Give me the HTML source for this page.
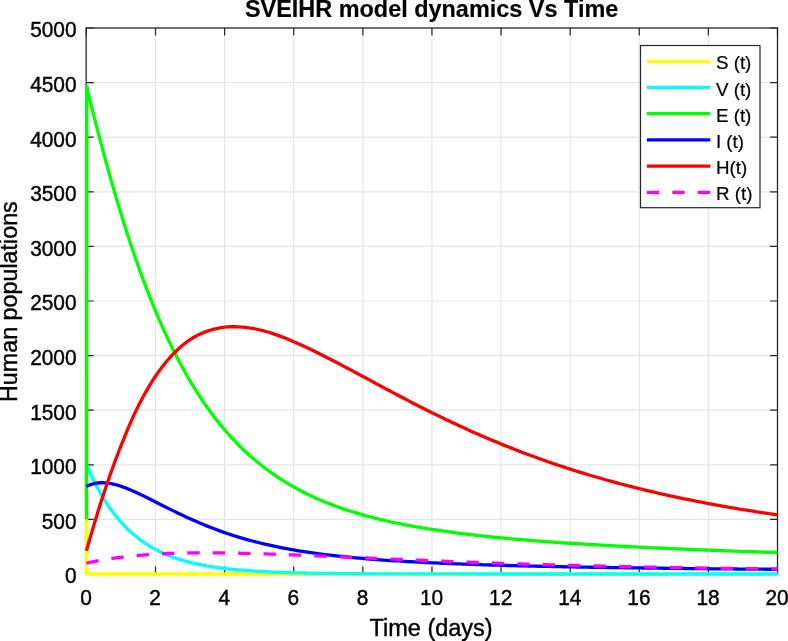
<!DOCTYPE html>
<html lang="en"><head><meta charset="utf-8"><title>SVEIHR model dynamics Vs Time</title>
<style>html,body{margin:0;padding:0;background:#fff;overflow:hidden}body{width:788px;height:641px;position:relative}</style></head>
<body>
<svg width="788" height="641" viewBox="0 0 788 641" style="position:absolute;left:0;top:0">
<rect width="788" height="641" fill="#fff"/>
<path d="M155.51 28.00 V574.00 M224.62 28.00 V574.00 M293.73 28.00 V574.00 M362.84 28.00 V574.00 M431.95 28.00 V574.00 M501.06 28.00 V574.00 M570.17 28.00 V574.00 M639.28 28.00 V574.00 M708.39 28.00 V574.00 M86.40 519.40 H777.50 M86.40 464.80 H777.50 M86.40 410.20 H777.50 M86.40 355.60 H777.50 M86.40 301.00 H777.50 M86.40 246.40 H777.50 M86.40 191.80 H777.50 M86.40 137.20 H777.50 M86.40 82.60 H777.50" stroke="#e5e5e5" stroke-width="1.2" fill="none"/>
<rect x="86.15" y="28.00" width="691.35" height="546.00" fill="none" stroke="#262626" stroke-width="1.3"/>
<path d="M86.40 574.00 v-7.40 M86.40 28.00 v7.40 M86.40 574.00 h7.40 M777.50 574.00 h-7.40 M155.51 574.00 v-7.40 M155.51 28.00 v7.40 M86.40 519.40 h7.40 M777.50 519.40 h-7.40 M224.62 574.00 v-7.40 M224.62 28.00 v7.40 M86.40 464.80 h7.40 M777.50 464.80 h-7.40 M293.73 574.00 v-7.40 M293.73 28.00 v7.40 M86.40 410.20 h7.40 M777.50 410.20 h-7.40 M362.84 574.00 v-7.40 M362.84 28.00 v7.40 M86.40 355.60 h7.40 M777.50 355.60 h-7.40 M431.95 574.00 v-7.40 M431.95 28.00 v7.40 M86.40 301.00 h7.40 M777.50 301.00 h-7.40 M501.06 574.00 v-7.40 M501.06 28.00 v7.40 M86.40 246.40 h7.40 M777.50 246.40 h-7.40 M570.17 574.00 v-7.40 M570.17 28.00 v7.40 M86.40 191.80 h7.40 M777.50 191.80 h-7.40 M639.28 574.00 v-7.40 M639.28 28.00 v7.40 M86.40 137.20 h7.40 M777.50 137.20 h-7.40 M708.39 574.00 v-7.40 M708.39 28.00 v7.40 M86.40 82.60 h7.40 M777.50 82.60 h-7.40 M777.50 574.00 v-7.40 M777.50 28.00 v7.40 M86.40 28.00 h7.40 M777.50 28.00 h-7.40" stroke="#262626" stroke-width="1.2" fill="none"/>
<path d="M85.95 137.20 L85.95 517.22" stroke="#ffff00" stroke-width="2.4" fill="none"/>
<path d="M86.50 515.03 L86.57 574.00 L777.50 574.00" stroke="#ffff00" stroke-width="3.30" fill="none" stroke-linejoin="round" />
<path d="M86.40 464.20 L87.26 466.24 L88.13 468.23 L88.99 470.19 L89.86 472.12 L90.72 474.00 L91.58 475.86 L92.45 477.68 L93.31 479.46 L94.17 481.21 L95.04 482.93 L95.90 484.62 L96.77 486.28 L97.63 487.90 L98.49 489.50 L99.36 491.06 L100.22 492.60 L101.09 494.11 L101.95 495.59 L102.81 497.04 L103.68 498.47 L104.54 499.87 L105.41 501.24 L106.27 502.59 L107.13 503.91 L108.00 505.21 L108.86 506.49 L109.72 507.74 L110.59 508.97 L111.45 510.17 L112.32 511.35 L113.18 512.52 L114.04 513.65 L114.91 514.77 L115.77 515.87 L116.64 516.95 L117.50 518.00 L118.36 519.04 L119.23 520.06 L120.09 521.06 L120.96 522.04 L121.82 523.00 L122.68 523.95 L123.55 524.88 L124.41 525.79 L125.27 526.68 L126.14 527.56 L127.00 528.42 L127.87 529.26 L128.73 530.09 L129.59 530.91 L130.46 531.70 L131.32 532.49 L132.19 533.26 L133.05 534.01 L133.91 534.75 L134.78 535.48 L135.64 536.19 L136.50 536.89 L137.37 537.58 L138.23 538.26 L139.10 538.92 L139.96 539.57 L140.82 540.21 L141.69 540.83 L142.55 541.45 L143.42 542.05 L144.28 542.64 L145.14 543.22 L146.01 543.80 L146.87 544.35 L147.74 544.90 L148.60 545.44 L149.46 545.97 L150.33 546.49 L151.19 547.00 L152.05 547.50 L152.92 547.99 L153.78 548.48 L154.65 548.95 L155.51 549.41 L158.97 551.18 L162.42 552.83 L165.88 554.36 L169.33 555.77 L172.79 557.09 L176.24 558.31 L179.70 559.44 L183.15 560.49 L186.61 561.46 L190.06 562.36 L193.52 563.20 L196.98 563.98 L200.43 564.70 L203.89 565.37 L207.34 566.00 L210.80 566.57 L214.25 567.11 L217.71 567.61 L221.16 568.07 L224.62 568.49 L228.08 568.89 L231.53 569.26 L234.99 569.60 L238.44 569.92 L241.90 570.21 L245.35 570.49 L248.81 570.74 L252.26 570.97 L255.72 571.19 L259.18 571.39 L262.63 571.58 L266.09 571.76 L269.54 571.92 L273.00 572.07 L276.45 572.21 L279.91 572.34 L283.36 572.46 L286.82 572.57 L290.27 572.67 L293.73 572.77 L297.19 572.86 L300.64 572.94 L304.10 573.01 L307.55 573.09 L311.01 573.15 L314.46 573.21 L317.92 573.27 L321.37 573.32 L324.83 573.37 L328.28 573.42 L331.74 573.46 L335.20 573.50 L338.65 573.53 L342.11 573.57 L345.56 573.60 L349.02 573.63 L352.47 573.65 L355.93 573.68 L359.38 573.70 L362.84 573.72 L366.30 573.74 L369.75 573.76 L373.21 573.78 L376.66 573.80 L380.12 573.81 L383.57 573.82 L387.03 573.84 L390.48 573.85 L393.94 573.86 L397.39 573.87 L400.85 573.88 L404.31 573.89 L407.76 573.90 L411.22 573.90 L414.67 573.91 L418.13 573.92 L421.58 573.92 L425.04 573.93 L428.49 573.93 L431.95 573.94 L435.41 573.94 L438.86 573.95 L442.32 573.95 L445.77 573.95 L449.23 573.96 L452.68 573.96 L456.14 573.96 L459.59 573.97 L463.05 573.97 L466.50 573.97 L469.96 573.97 L473.42 573.97 L476.87 573.98 L480.33 573.98 L483.78 573.98 L487.24 573.98 L490.69 573.98 L494.15 573.98 L497.60 573.99 L501.06 573.99 L504.52 573.99 L507.97 573.99 L511.43 573.99 L514.88 573.99 L518.34 573.99 L521.79 573.99 L525.25 573.99 L528.70 573.99 L532.16 573.99 L535.62 573.99 L539.07 573.99 L542.53 573.99 L545.98 573.99 L549.44 574.00 L552.89 574.00 L556.35 574.00 L559.80 574.00 L563.26 574.00 L566.71 574.00 L570.17 574.00 L573.63 574.00 L577.08 574.00 L580.54 574.00 L583.99 574.00 L587.45 574.00 L590.90 574.00 L594.36 574.00 L597.81 574.00 L601.27 574.00 L604.73 574.00 L608.18 574.00 L611.64 574.00 L615.09 574.00 L618.55 574.00 L622.00 574.00 L625.46 574.00 L628.91 574.00 L632.37 574.00 L635.82 574.00 L639.28 574.00 L642.74 574.00 L646.19 574.00 L649.65 574.00 L653.10 574.00 L656.56 574.00 L660.01 574.00 L663.47 574.00 L666.92 574.00 L670.38 574.00 L673.84 574.00 L677.29 574.00 L680.75 574.00 L684.20 574.00 L687.66 574.00 L691.11 574.00 L694.57 574.00 L698.02 574.00 L701.48 574.00 L704.93 574.00 L708.39 574.00 L711.85 574.00 L715.30 574.00 L718.76 574.00 L722.21 574.00 L725.67 574.00 L729.12 574.00 L732.58 574.00 L736.03 574.00 L739.49 574.00 L742.94 574.00 L746.40 574.00 L749.86 574.00 L753.31 574.00 L756.77 574.00 L760.22 574.00 L763.68 574.00 L767.13 574.00 L770.59 574.00 L774.04 574.00 L777.50 574.00" stroke="#00ffff" stroke-width="3.30" fill="none" stroke-linejoin="round" />
<path d="M86.50 519.40 L86.71 89.15 L86.95 86.53 L88.13 93.10 L88.99 96.57 L89.86 100.02 L90.72 103.46 L91.58 106.89 L92.45 110.30 L93.31 113.70 L94.17 117.08 L95.04 120.45 L95.90 123.80 L96.77 127.14 L97.63 130.46 L98.49 133.77 L99.36 137.06 L100.22 140.33 L101.09 143.59 L101.95 146.83 L102.81 150.05 L103.68 153.26 L104.54 156.44 L105.41 159.61 L106.27 162.76 L107.13 165.90 L108.00 169.01 L108.86 172.11 L109.72 175.19 L110.59 178.25 L111.45 181.29 L112.32 184.31 L113.18 187.31 L114.04 190.30 L114.91 193.26 L115.77 196.21 L116.64 199.14 L117.50 202.04 L118.36 204.93 L119.23 207.80 L120.09 210.65 L120.96 213.48 L121.82 216.29 L122.68 219.08 L123.55 221.85 L124.41 224.61 L125.27 227.34 L126.14 230.05 L127.00 232.74 L127.87 235.42 L128.73 238.07 L129.59 240.71 L130.46 243.32 L131.32 245.92 L132.19 248.50 L133.05 251.05 L133.91 253.59 L134.78 256.11 L135.64 258.61 L136.50 261.09 L137.37 263.55 L138.23 266.00 L139.10 268.42 L139.96 270.82 L140.82 273.21 L141.69 275.58 L142.55 277.93 L143.42 280.26 L144.28 282.57 L145.14 284.86 L146.01 287.13 L146.87 289.39 L147.74 291.63 L148.60 293.85 L149.46 296.05 L150.33 298.23 L151.19 300.40 L152.05 302.54 L152.92 304.67 L153.78 306.79 L154.65 308.88 L155.51 310.96 L158.97 319.09 L162.42 326.96 L165.88 334.56 L169.33 341.90 L172.79 348.99 L176.24 355.84 L179.70 362.45 L183.15 368.82 L186.61 374.98 L190.06 380.91 L193.52 386.64 L196.98 392.16 L200.43 397.49 L203.89 402.62 L207.34 407.57 L210.80 412.34 L214.25 416.94 L217.71 421.37 L221.16 425.64 L224.62 429.76 L228.08 433.73 L231.53 437.55 L234.99 441.24 L238.44 444.79 L241.90 448.21 L245.35 451.51 L248.81 454.69 L252.26 457.75 L255.72 460.71 L259.18 463.55 L262.63 466.30 L266.09 468.94 L269.54 471.49 L273.00 473.95 L276.45 476.32 L279.91 478.60 L283.36 480.80 L286.82 482.93 L290.27 484.98 L293.73 486.95 L297.19 488.86 L300.64 490.70 L304.10 492.48 L307.55 494.19 L311.01 495.85 L314.46 497.44 L317.92 498.98 L321.37 500.47 L324.83 501.91 L328.28 503.30 L331.74 504.64 L335.20 505.94 L338.65 507.19 L342.11 508.40 L345.56 509.57 L349.02 510.71 L352.47 511.80 L355.93 512.86 L359.38 513.89 L362.84 514.88 L366.30 515.84 L369.75 516.77 L373.21 517.67 L376.66 518.55 L380.12 519.39 L383.57 520.21 L387.03 521.01 L390.48 521.78 L393.94 522.52 L397.39 523.25 L400.85 523.95 L404.31 524.64 L407.76 525.30 L411.22 525.94 L414.67 526.57 L418.13 527.18 L421.58 527.77 L425.04 528.34 L428.49 528.90 L431.95 529.44 L435.41 529.97 L438.86 530.48 L442.32 530.98 L445.77 531.47 L449.23 531.95 L452.68 532.41 L456.14 532.86 L459.59 533.30 L463.05 533.73 L466.50 534.15 L469.96 534.56 L473.42 534.96 L476.87 535.34 L480.33 535.72 L483.78 536.10 L487.24 536.46 L490.69 536.81 L494.15 537.16 L497.60 537.50 L501.06 537.83 L504.52 538.16 L507.97 538.47 L511.43 538.79 L514.88 539.09 L518.34 539.39 L521.79 539.68 L525.25 539.97 L528.70 540.25 L532.16 540.53 L535.62 540.80 L539.07 541.06 L542.53 541.32 L545.98 541.58 L549.44 541.83 L552.89 542.08 L556.35 542.32 L559.80 542.56 L563.26 542.79 L566.71 543.02 L570.17 543.25 L573.63 543.47 L577.08 543.69 L580.54 543.91 L583.99 544.12 L587.45 544.33 L590.90 544.54 L594.36 544.74 L597.81 544.94 L601.27 545.14 L604.73 545.33 L608.18 545.52 L611.64 545.71 L615.09 545.90 L618.55 546.08 L622.00 546.26 L625.46 546.44 L628.91 546.62 L632.37 546.79 L635.82 546.96 L639.28 547.13 L642.74 547.30 L646.19 547.46 L649.65 547.63 L653.10 547.79 L656.56 547.95 L660.01 548.11 L663.47 548.26 L666.92 548.41 L670.38 548.57 L673.84 548.72 L677.29 548.87 L680.75 549.01 L684.20 549.16 L687.66 549.30 L691.11 549.44 L694.57 549.58 L698.02 549.72 L701.48 549.86 L704.93 550.00 L708.39 550.13 L711.85 550.26 L715.30 550.40 L718.76 550.53 L722.21 550.66 L725.67 550.78 L729.12 550.91 L732.58 551.04 L736.03 551.16 L739.49 551.28 L742.94 551.40 L746.40 551.53 L749.86 551.64 L753.31 551.76 L756.77 551.88 L760.22 552.00 L763.68 552.11 L767.13 552.23 L770.59 552.34 L774.04 552.45 L777.50 552.56" stroke="#00ff00" stroke-width="3.30" fill="none" stroke-linejoin="round" />
<path d="M86.40 486.46 L87.26 486.03 L88.13 485.62 L88.99 485.25 L89.86 484.90 L90.72 484.58 L91.58 484.30 L92.45 484.03 L93.31 483.80 L94.17 483.59 L95.04 483.40 L95.90 483.24 L96.77 483.10 L97.63 482.99 L98.49 482.89 L99.36 482.82 L100.22 482.77 L101.09 482.74 L101.95 482.73 L102.81 482.73 L103.68 482.76 L104.54 482.80 L105.41 482.86 L106.27 482.93 L107.13 483.03 L108.00 483.13 L108.86 483.26 L109.72 483.39 L110.59 483.54 L111.45 483.71 L112.32 483.88 L113.18 484.07 L114.04 484.28 L114.91 484.49 L115.77 484.72 L116.64 484.95 L117.50 485.20 L118.36 485.45 L119.23 485.72 L120.09 486.00 L120.96 486.28 L121.82 486.57 L122.68 486.88 L123.55 487.19 L124.41 487.50 L125.27 487.83 L126.14 488.16 L127.00 488.50 L127.87 488.84 L128.73 489.20 L129.59 489.55 L130.46 489.92 L131.32 490.28 L132.19 490.66 L133.05 491.04 L133.91 491.42 L134.78 491.81 L135.64 492.20 L136.50 492.59 L137.37 492.99 L138.23 493.40 L139.10 493.80 L139.96 494.21 L140.82 494.62 L141.69 495.04 L142.55 495.46 L143.42 495.88 L144.28 496.30 L145.14 496.72 L146.01 497.15 L146.87 497.58 L147.74 498.01 L148.60 498.44 L149.46 498.87 L150.33 499.30 L151.19 499.74 L152.05 500.17 L152.92 500.61 L153.78 501.05 L154.65 501.49 L155.51 501.92 L158.97 503.68 L162.42 505.43 L165.88 507.17 L169.33 508.90 L172.79 510.61 L176.24 512.30 L179.70 513.97 L183.15 515.61 L186.61 517.22 L190.06 518.79 L193.52 520.34 L196.98 521.84 L200.43 523.32 L203.89 524.75 L207.34 526.15 L210.80 527.51 L214.25 528.83 L217.71 530.12 L221.16 531.37 L224.62 532.58 L228.08 533.75 L231.53 534.89 L234.99 535.99 L238.44 537.05 L241.90 538.09 L245.35 539.08 L248.81 540.05 L252.26 540.98 L255.72 541.88 L259.18 542.75 L262.63 543.59 L266.09 544.40 L269.54 545.18 L273.00 545.93 L276.45 546.66 L279.91 547.36 L283.36 548.04 L286.82 548.70 L290.27 549.33 L293.73 549.93 L297.19 550.52 L300.64 551.09 L304.10 551.63 L307.55 552.16 L311.01 552.66 L314.46 553.15 L317.92 553.63 L321.37 554.08 L324.83 554.52 L328.28 554.95 L331.74 555.35 L335.20 555.75 L338.65 556.13 L342.11 556.50 L345.56 556.85 L349.02 557.20 L352.47 557.53 L355.93 557.85 L359.38 558.16 L362.84 558.46 L366.30 558.75 L369.75 559.03 L373.21 559.30 L376.66 559.56 L380.12 559.82 L383.57 560.06 L387.03 560.30 L390.48 560.53 L393.94 560.75 L397.39 560.97 L400.85 561.18 L404.31 561.38 L407.76 561.58 L411.22 561.77 L414.67 561.96 L418.13 562.14 L421.58 562.31 L425.04 562.48 L428.49 562.65 L431.95 562.81 L435.41 562.97 L438.86 563.12 L442.32 563.27 L445.77 563.41 L449.23 563.55 L452.68 563.69 L456.14 563.82 L459.59 563.95 L463.05 564.08 L466.50 564.20 L469.96 564.32 L473.42 564.44 L476.87 564.56 L480.33 564.67 L483.78 564.78 L487.24 564.89 L490.69 564.99 L494.15 565.09 L497.60 565.19 L501.06 565.29 L504.52 565.38 L507.97 565.48 L511.43 565.57 L514.88 565.66 L518.34 565.75 L521.79 565.83 L525.25 565.92 L528.70 566.00 L532.16 566.08 L535.62 566.16 L539.07 566.24 L542.53 566.31 L545.98 566.39 L549.44 566.46 L552.89 566.53 L556.35 566.60 L559.80 566.67 L563.26 566.74 L566.71 566.80 L570.17 566.87 L573.63 566.93 L577.08 567.00 L580.54 567.06 L583.99 567.12 L587.45 567.18 L590.90 567.24 L594.36 567.29 L597.81 567.35 L601.27 567.41 L604.73 567.46 L608.18 567.51 L611.64 567.57 L615.09 567.62 L618.55 567.67 L622.00 567.72 L625.46 567.77 L628.91 567.82 L632.37 567.87 L635.82 567.91 L639.28 567.96 L642.74 568.00 L646.19 568.05 L649.65 568.09 L653.10 568.14 L656.56 568.18 L660.01 568.22 L663.47 568.26 L666.92 568.30 L670.38 568.34 L673.84 568.38 L677.29 568.42 L680.75 568.46 L684.20 568.50 L687.66 568.53 L691.11 568.57 L694.57 568.61 L698.02 568.64 L701.48 568.68 L704.93 568.71 L708.39 568.74 L711.85 568.78 L715.30 568.81 L718.76 568.84 L722.21 568.87 L725.67 568.91 L729.12 568.94 L732.58 568.97 L736.03 569.00 L739.49 569.03 L742.94 569.06 L746.40 569.08 L749.86 569.11 L753.31 569.14 L756.77 569.17 L760.22 569.19 L763.68 569.22 L767.13 569.25 L770.59 569.27 L774.04 569.30 L777.50 569.32" stroke="#0000ff" stroke-width="3.30" fill="none" stroke-linejoin="round" />
<path d="M86.40 550.79 L87.26 547.76 L88.13 544.74 L88.99 541.74 L89.86 538.76 L90.72 535.80 L91.58 532.86 L92.45 529.94 L93.31 527.04 L94.17 524.15 L95.04 521.29 L95.90 518.46 L96.77 515.64 L97.63 512.84 L98.49 510.07 L99.36 507.31 L100.22 504.58 L101.09 501.87 L101.95 499.18 L102.81 496.52 L103.68 493.87 L104.54 491.25 L105.41 488.66 L106.27 486.08 L107.13 483.53 L108.00 481.00 L108.86 478.50 L109.72 476.01 L110.59 473.56 L111.45 471.12 L112.32 468.71 L113.18 466.32 L114.04 463.95 L114.91 461.61 L115.77 459.29 L116.64 457.00 L117.50 454.73 L118.36 452.48 L119.23 450.26 L120.09 448.06 L120.96 445.88 L121.82 443.72 L122.68 441.57 L123.55 439.42 L124.41 437.29 L125.27 435.18 L126.14 433.08 L127.00 430.99 L127.87 428.93 L128.73 426.89 L129.59 424.87 L130.46 422.87 L131.32 420.90 L132.19 418.95 L133.05 417.04 L133.91 415.15 L134.78 413.30 L135.64 411.48 L136.50 409.70 L137.37 407.94 L138.23 406.21 L139.10 404.49 L139.96 402.80 L140.82 401.14 L141.69 399.50 L142.55 397.88 L143.42 396.28 L144.28 394.70 L145.14 393.15 L146.01 391.62 L146.87 390.11 L147.74 388.63 L148.60 387.16 L149.46 385.72 L150.33 384.30 L151.19 382.90 L152.05 381.52 L152.92 380.17 L153.78 378.83 L154.65 377.52 L155.51 376.22 L158.97 371.26 L162.42 366.60 L165.88 362.26 L169.33 358.21 L172.79 354.45 L176.24 350.97 L179.70 347.77 L183.15 344.82 L186.61 342.13 L190.06 339.68 L193.52 337.50 L196.98 335.57 L200.43 333.88 L203.89 332.40 L207.34 331.11 L210.80 329.99 L214.25 329.05 L217.71 328.28 L221.16 327.68 L224.62 327.23 L228.08 326.93 L231.53 326.76 L234.99 326.73 L238.44 326.82 L241.90 327.03 L245.35 327.36 L248.81 327.81 L252.26 328.35 L255.72 329.00 L259.18 329.75 L262.63 330.59 L266.09 331.52 L269.54 332.54 L273.00 333.64 L276.45 334.83 L279.91 336.08 L283.36 337.40 L286.82 338.78 L290.27 340.20 L293.73 341.66 L297.19 343.16 L300.64 344.70 L304.10 346.29 L307.55 347.91 L311.01 349.56 L314.46 351.24 L317.92 352.94 L321.37 354.67 L324.83 356.41 L328.28 358.17 L331.74 359.95 L335.20 361.74 L338.65 363.54 L342.11 365.36 L345.56 367.19 L349.02 369.03 L352.47 370.88 L355.93 372.73 L359.38 374.59 L362.84 376.45 L366.30 378.31 L369.75 380.17 L373.21 382.03 L376.66 383.89 L380.12 385.75 L383.57 387.60 L387.03 389.44 L390.48 391.29 L393.94 393.12 L397.39 394.95 L400.85 396.77 L404.31 398.58 L407.76 400.38 L411.22 402.17 L414.67 403.95 L418.13 405.72 L421.58 407.47 L425.04 409.22 L428.49 410.95 L431.95 412.67 L435.41 414.38 L438.86 416.07 L442.32 417.75 L445.77 419.41 L449.23 421.06 L452.68 422.70 L456.14 424.32 L459.59 425.93 L463.05 427.52 L466.50 429.09 L469.96 430.65 L473.42 432.20 L476.87 433.73 L480.33 435.24 L483.78 436.74 L487.24 438.22 L490.69 439.69 L494.15 441.14 L497.60 442.57 L501.06 443.99 L504.52 445.39 L507.97 446.78 L511.43 448.15 L514.88 449.51 L518.34 450.85 L521.79 452.17 L525.25 453.48 L528.70 454.77 L532.16 456.05 L535.62 457.31 L539.07 458.56 L542.53 459.79 L545.98 461.01 L549.44 462.21 L552.89 463.40 L556.35 464.57 L559.80 465.73 L563.26 466.87 L566.71 468.00 L570.17 469.12 L573.63 470.22 L577.08 471.31 L580.54 472.38 L583.99 473.44 L587.45 474.48 L590.90 475.52 L594.36 476.53 L597.81 477.54 L601.27 478.53 L604.73 479.51 L608.18 480.48 L611.64 481.43 L615.09 482.37 L618.55 483.30 L622.00 484.22 L625.46 485.12 L628.91 486.02 L632.37 486.90 L635.82 487.76 L639.28 488.62 L642.74 489.47 L646.19 490.30 L649.65 491.13 L653.10 491.94 L656.56 492.74 L660.01 493.53 L663.47 494.31 L666.92 495.08 L670.38 495.84 L673.84 496.58 L677.29 497.32 L680.75 498.05 L684.20 498.77 L687.66 499.48 L691.11 500.18 L694.57 500.87 L698.02 501.55 L701.48 502.22 L704.93 502.88 L708.39 503.53 L711.85 504.17 L715.30 504.81 L718.76 505.43 L722.21 506.05 L725.67 506.66 L729.12 507.26 L732.58 507.85 L736.03 508.43 L739.49 509.01 L742.94 509.58 L746.40 510.14 L749.86 510.69 L753.31 511.23 L756.77 511.77 L760.22 512.30 L763.68 512.82 L767.13 513.34 L770.59 513.85 L774.04 514.35 L777.50 514.84" stroke="#ff0000" stroke-width="3.30" fill="none" stroke-linejoin="round" />
<path d="M86.40 563.17 L87.26 562.98 L88.13 562.79 L88.99 562.60 L89.86 562.42 L90.72 562.24 L91.58 562.06 L92.45 561.88 L93.31 561.71 L94.17 561.54 L95.04 561.37 L95.90 561.20 L96.77 561.04 L97.63 560.88 L98.49 560.72 L99.36 560.56 L100.22 560.40 L101.09 560.25 L101.95 560.10 L102.81 559.95 L103.68 559.80 L104.54 559.66 L105.41 559.51 L106.27 559.37 L107.13 559.23 L108.00 559.10 L108.86 558.96 L109.72 558.83 L110.59 558.70 L111.45 558.57 L112.32 558.44 L113.18 558.32 L114.04 558.20 L114.91 558.07 L115.77 557.96 L116.64 557.84 L117.50 557.72 L118.36 557.61 L119.23 557.50 L120.09 557.39 L120.96 557.28 L121.82 557.17 L122.68 557.07 L123.55 556.96 L124.41 556.86 L125.27 556.76 L126.14 556.66 L127.00 556.56 L127.87 556.47 L128.73 556.38 L129.59 556.28 L130.46 556.19 L131.32 556.10 L132.19 556.02 L133.05 555.93 L133.91 555.85 L134.78 555.76 L135.64 555.68 L136.50 555.60 L137.37 555.52 L138.23 555.45 L139.10 555.37 L139.96 555.30 L140.82 555.22 L141.69 555.15 L142.55 555.08 L143.42 555.01 L144.28 554.95 L145.14 554.88 L146.01 554.82 L146.87 554.75 L147.74 554.69 L148.60 554.63 L149.46 554.57 L150.33 554.51 L151.19 554.46 L152.05 554.40 L152.92 554.34 L153.78 554.29 L154.65 554.24 L155.51 554.19 L158.97 553.99 L162.42 553.82 L165.88 553.66 L169.33 553.52 L172.79 553.39 L176.24 553.28 L179.70 553.18 L183.15 553.10 L186.61 553.03 L190.06 552.97 L193.52 552.92 L196.98 552.89 L200.43 552.87 L203.89 552.85 L207.34 552.85 L210.80 552.86 L214.25 552.87 L217.71 552.90 L221.16 552.93 L224.62 552.97 L228.08 553.02 L231.53 553.07 L234.99 553.13 L238.44 553.20 L241.90 553.28 L245.35 553.36 L248.81 553.44 L252.26 553.53 L255.72 553.63 L259.18 553.73 L262.63 553.83 L266.09 553.94 L269.54 554.05 L273.00 554.17 L276.45 554.29 L279.91 554.41 L283.36 554.53 L286.82 554.66 L290.27 554.79 L293.73 554.93 L297.19 555.06 L300.64 555.20 L304.10 555.34 L307.55 555.48 L311.01 555.62 L314.46 555.76 L317.92 555.91 L321.37 556.05 L324.83 556.20 L328.28 556.35 L331.74 556.50 L335.20 556.65 L338.65 556.80 L342.11 556.95 L345.56 557.10 L349.02 557.25 L352.47 557.40 L355.93 557.55 L359.38 557.70 L362.84 557.85 L366.30 558.00 L369.75 558.15 L373.21 558.31 L376.66 558.46 L380.12 558.61 L383.57 558.75 L387.03 558.90 L390.48 559.05 L393.94 559.20 L397.39 559.35 L400.85 559.49 L404.31 559.64 L407.76 559.78 L411.22 559.93 L414.67 560.07 L418.13 560.21 L421.58 560.35 L425.04 560.49 L428.49 560.63 L431.95 560.77 L435.41 560.91 L438.86 561.04 L442.32 561.18 L445.77 561.31 L449.23 561.45 L452.68 561.58 L456.14 561.71 L459.59 561.84 L463.05 561.97 L466.50 562.09 L469.96 562.22 L473.42 562.34 L476.87 562.47 L480.33 562.59 L483.78 562.71 L487.24 562.83 L490.69 562.95 L494.15 563.07 L497.60 563.18 L501.06 563.30 L504.52 563.41 L507.97 563.52 L511.43 563.63 L514.88 563.74 L518.34 563.85 L521.79 563.96 L525.25 564.07 L528.70 564.17 L532.16 564.28 L535.62 564.38 L539.07 564.48 L542.53 564.58 L545.98 564.68 L549.44 564.78 L552.89 564.87 L556.35 564.97 L559.80 565.06 L563.26 565.16 L566.71 565.25 L570.17 565.34 L573.63 565.43 L577.08 565.52 L580.54 565.60 L583.99 565.69 L587.45 565.78 L590.90 565.86 L594.36 565.94 L597.81 566.02 L601.27 566.10 L604.73 566.18 L608.18 566.26 L611.64 566.34 L615.09 566.42 L618.55 566.49 L622.00 566.57 L625.46 566.64 L628.91 566.71 L632.37 566.78 L635.82 566.85 L639.28 566.92 L642.74 566.99 L646.19 567.06 L649.65 567.12 L653.10 567.19 L656.56 567.25 L660.01 567.32 L663.47 567.38 L666.92 567.44 L670.38 567.50 L673.84 567.56 L677.29 567.62 L680.75 567.68 L684.20 567.74 L687.66 567.79 L691.11 567.85 L694.57 567.91 L698.02 567.96 L701.48 568.01 L704.93 568.07 L708.39 568.12 L711.85 568.17 L715.30 568.22 L718.76 568.27 L722.21 568.32 L725.67 568.37 L729.12 568.41 L732.58 568.46 L736.03 568.51 L739.49 568.55 L742.94 568.60 L746.40 568.64 L749.86 568.68 L753.31 568.72 L756.77 568.77 L760.22 568.81 L763.68 568.85 L767.13 568.89 L770.59 568.93 L774.04 568.97 L777.50 569.00" stroke="#ff00ff" stroke-width="3.30" fill="none" stroke-linejoin="round" stroke-dasharray="12.4 13"/>
<g font-family="'Liberation Sans', Arial, Helvetica, sans-serif" fill="#000" stroke="#000" stroke-width="0.4">
<text transform="translate(86.00 605.1) scale(1 1.055)" font-size="20.9" text-anchor="middle">0</text>
<text transform="translate(155.11 605.1) scale(1 1.055)" font-size="20.9" text-anchor="middle">2</text>
<text transform="translate(224.22 605.1) scale(1 1.055)" font-size="20.9" text-anchor="middle">4</text>
<text transform="translate(293.33 605.1) scale(1 1.055)" font-size="20.9" text-anchor="middle">6</text>
<text transform="translate(362.44 605.1) scale(1 1.055)" font-size="20.9" text-anchor="middle">8</text>
<text transform="translate(431.55 605.1) scale(1 1.055)" font-size="20.9" text-anchor="middle">10</text>
<text transform="translate(500.66 605.1) scale(1 1.055)" font-size="20.9" text-anchor="middle">12</text>
<text transform="translate(569.77 605.1) scale(1 1.055)" font-size="20.9" text-anchor="middle">14</text>
<text transform="translate(638.88 605.1) scale(1 1.055)" font-size="20.9" text-anchor="middle">16</text>
<text transform="translate(707.99 605.1) scale(1 1.055)" font-size="20.9" text-anchor="middle">18</text>
<text transform="translate(777.10 605.1) scale(1 1.055)" font-size="20.9" text-anchor="middle">20</text>
<text transform="translate(76.6 583.45) scale(1 1.055)" font-size="20.9" text-anchor="end">0</text>
<text transform="translate(76.6 528.85) scale(1 1.055)" font-size="20.9" text-anchor="end">500</text>
<text transform="translate(76.6 474.25) scale(1 1.055)" font-size="20.9" text-anchor="end">1000</text>
<text transform="translate(76.6 419.65) scale(1 1.055)" font-size="20.9" text-anchor="end">1500</text>
<text transform="translate(76.6 365.05) scale(1 1.055)" font-size="20.9" text-anchor="end">2000</text>
<text transform="translate(76.6 310.45) scale(1 1.055)" font-size="20.9" text-anchor="end">2500</text>
<text transform="translate(76.6 255.85) scale(1 1.055)" font-size="20.9" text-anchor="end">3000</text>
<text transform="translate(76.6 201.25) scale(1 1.055)" font-size="20.9" text-anchor="end">3500</text>
<text transform="translate(76.6 146.65) scale(1 1.055)" font-size="20.9" text-anchor="end">4000</text>
<text transform="translate(76.6 92.05) scale(1 1.055)" font-size="20.9" text-anchor="end">4500</text>
<text transform="translate(76.6 37.45) scale(1 1.055)" font-size="20.9" text-anchor="end">5000</text>
<text x="431.1" y="636.4" font-size="23.5" text-anchor="middle">Time (days)</text>
<text transform="translate(17.2 301.6) rotate(-90)" font-size="23.3" text-anchor="middle">Human populations</text>
<text x="431.6" y="16.9" font-size="23.45" font-weight="bold" fill="#000" stroke-width="0.15" text-anchor="middle">SVEIHR model dynamics Vs Time</text>
<rect x="640.50" y="45.50" width="119.50" height="162.20" fill="#fff" stroke="#262626" stroke-width="1.2"/>
<path d="M646.9 61.30 H710.3" stroke="#ffff00" stroke-width="3.30" fill="none"/>
<text x="715.9" y="69.40" font-size="18.8" stroke-width="0.2">S (t)</text>
<path d="M646.9 87.45 H710.3" stroke="#00ffff" stroke-width="3.30" fill="none"/>
<text x="715.9" y="95.55" font-size="18.8" stroke-width="0.2">V (t)</text>
<path d="M646.9 113.60 H710.3" stroke="#00ff00" stroke-width="3.30" fill="none"/>
<text x="715.9" y="121.70" font-size="18.8" stroke-width="0.2">E (t)</text>
<path d="M646.9 139.90 H710.3" stroke="#0000ff" stroke-width="3.30" fill="none"/>
<text x="715.9" y="148.00" font-size="18.8" stroke-width="0.2">I (t)</text>
<path d="M646.9 166.10 H710.3" stroke="#ff0000" stroke-width="3.30" fill="none"/>
<text x="715.9" y="174.20" font-size="18.8" stroke-width="0.2">H(t)</text>
<path d="M646.9 192.30 H710.3" stroke="#ff00ff" stroke-width="3.30" fill="none" stroke-dasharray="12.4 13"/>
<text x="715.9" y="200.40" font-size="18.8" stroke-width="0.2">R (t)</text>
</g>
</svg>
</body></html>
